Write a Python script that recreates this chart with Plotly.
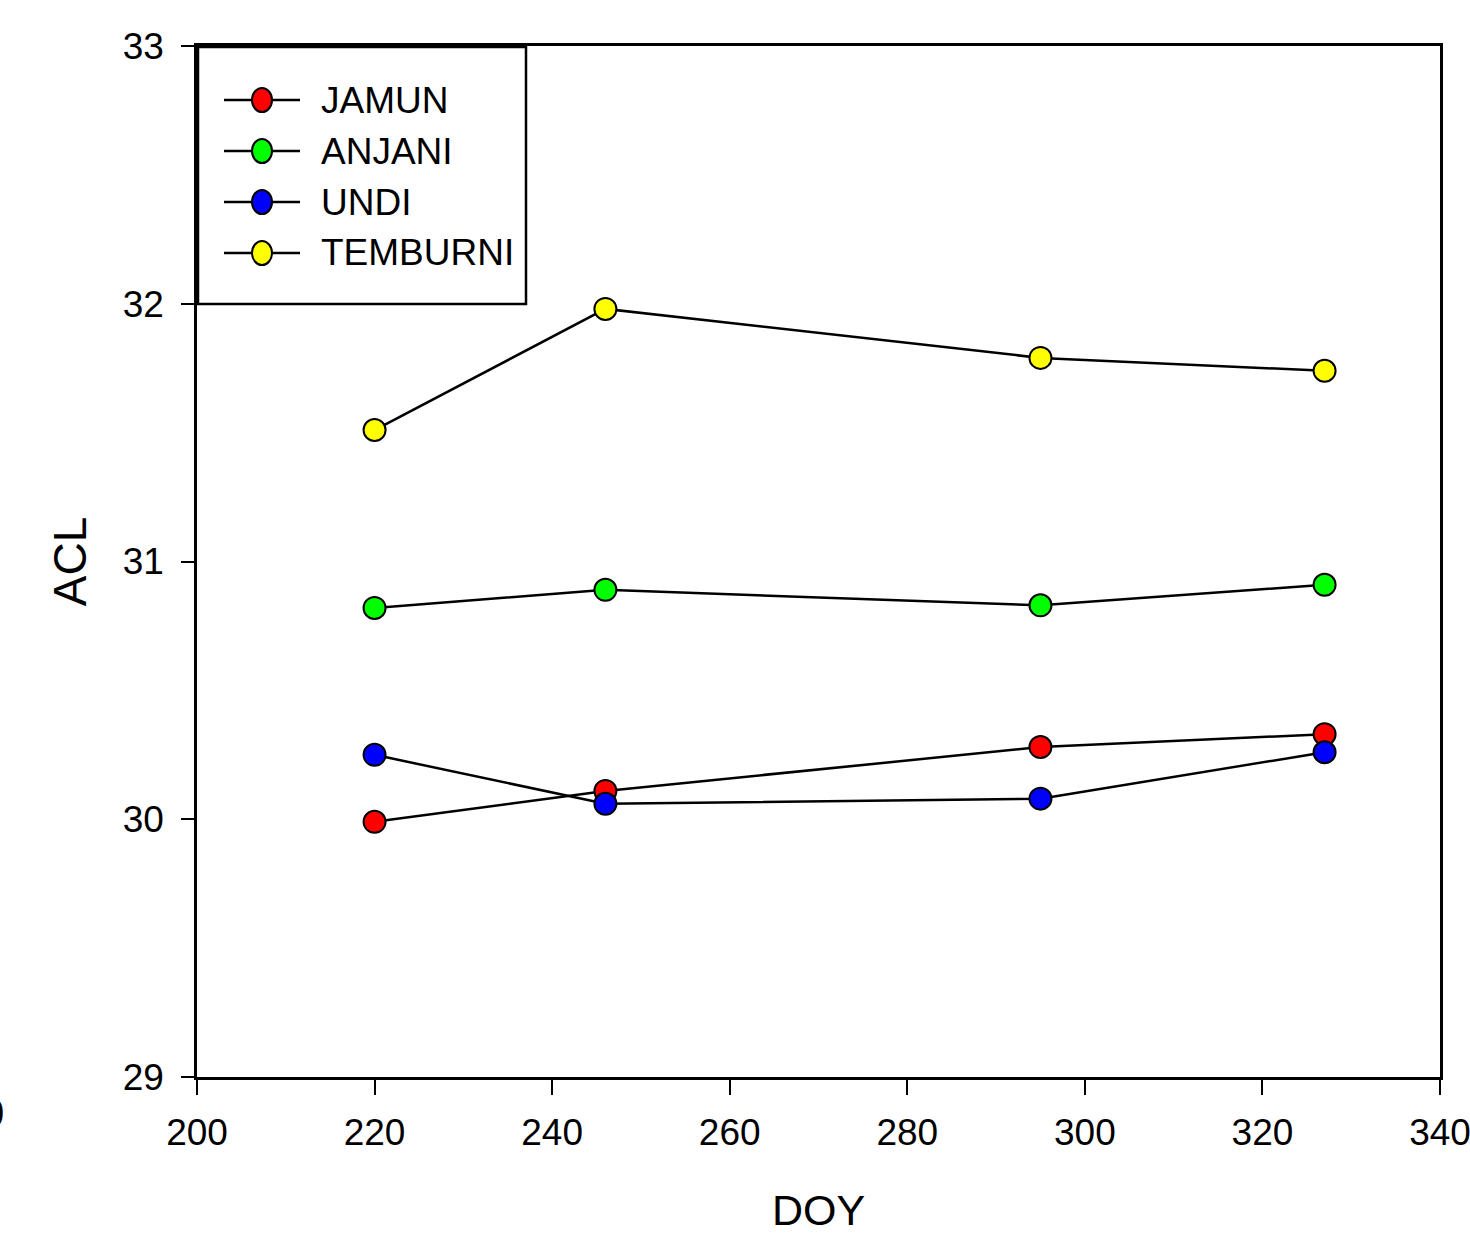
import plotly.graph_objects as go

doy = [220, 246, 295, 327]
jamun = [29.99, 30.11, 30.28, 30.33]
anjani = [30.82, 30.89, 30.83, 30.91]
undi = [30.25, 30.06, 30.08, 30.26]
temburni = [31.51, 31.98, 31.79, 31.74]

series_names = ["JAMUN", "ANJANI", "UNDI", "TEMBURNI"]
series_values = [jamun, anjani, undi, temburni]
series_colors = ["#ff0000", "#00ff00", "#0000ff", "#ffff00"]

x_ticks = [200, 220, 240, 260, 280, 300, 320, 340]
y_ticks = [29, 30, 31, 32, 33]

FONT = "Liberation Sans, Arial, sans-serif"

# plot-area geometry in pixels (used to place the hand-drawn legend)
W, H = 1470, 1234
ML, MR, MT, MB = 197, 30, 46, 157
PW, PH = W - ML - MR, H - MT - MB


def px(x):
    return (x - ML) / PW


def py(y):
    return (H - MB - y) / PH


fig = go.Figure()
for name, vals, col in zip(series_names, series_values, series_colors):
    fig.add_trace(go.Scatter(
        x=doy, y=vals, name=name, mode="lines+markers",
        line=dict(color="black", width=2.5),
        marker=dict(symbol="circle", size=22, color=col,
                    line=dict(color="black", width=2)),
        cliponaxis=False,
        showlegend=False,
    ))

shapes = []
annotations = []
# legend box
shapes.append(dict(type="rect", xref="paper", yref="paper",
                   x0=px(198), x1=px(526), y0=py(304), y1=py(47),
                   line=dict(color="black", width=2.5), fillcolor="white",
                   layer="above"))
row_y = [100, 151, 202, 253]
for name, col, ry in zip(series_names, series_colors, row_y):
    shapes.append(dict(type="line", xref="paper", yref="paper",
                       x0=px(224), x1=px(300), y0=py(ry), y1=py(ry),
                       line=dict(color="black", width=2.5), layer="above"))
    shapes.append(dict(type="circle", xref="paper", yref="paper",
                       x0=px(252), x1=px(272), y0=py(ry + 12), y1=py(ry - 12),
                       line=dict(color="black", width=2), fillcolor=col,
                       layer="above"))
    annotations.append(dict(text=name, xref="paper", yref="paper",
                            x=px(319), y=py(ry), xanchor="left", yanchor="middle",
                            showarrow=False,
                            font=dict(family=FONT, size=37, color="black")))

# clipped fragment at the lower-left edge of the reference
annotations.append(dict(text="0", xref="paper", yref="paper",
                        x=px(6), y=py(1113), xanchor="right", yanchor="middle",
                        showarrow=False,
                        font=dict(family=FONT, size=40, color="black")))

fig.update_layout(
    width=W, height=H,
    margin=dict(l=ML, r=MR, t=MT, b=MB),
    paper_bgcolor="white", plot_bgcolor="white",
    showlegend=False,
    shapes=shapes, annotations=annotations,
    font=dict(family=FONT, color="black"),
)

fig.update_xaxes(
    range=[200, 340], tickvals=x_ticks, ticktext=[str(v) for v in x_ticks],
    showgrid=False, zeroline=False, automargin=False,
    showline=True, linecolor="black", linewidth=2.5, mirror=True,
    ticks="outside", ticklen=15, tickwidth=2, tickcolor="black",
    tickfont=dict(family=FONT, size=37, color="black"),
    ticklabelstandoff=6, ticklabeloverflow="allow",
    title=dict(text="DOY", font=dict(family=FONT, size=43, color="black"), standoff=56),
)
fig.update_yaxes(
    range=[29, 33], tickvals=y_ticks, ticktext=[str(v) for v in y_ticks],
    showgrid=False, zeroline=False, automargin=False,
    showline=True, linecolor="black", linewidth=2.5, mirror=True,
    ticks="outside", ticklen=13, tickwidth=2, tickcolor="black",
    tickfont=dict(family=FONT, size=37, color="black"),
    ticklabelstandoff=10,
    title=dict(text="ACL", font=dict(family=FONT, size=46, color="black"), standoff=22),
)

fig.write_html("out.html")
